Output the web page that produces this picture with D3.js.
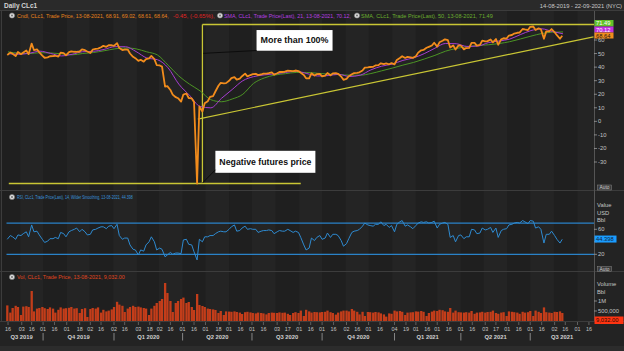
<!DOCTYPE html>
<meta charset="utf-8">
<style>
  body { margin: 0; background: #1d1d1d; }
  svg { display: block; font-family: "Liberation Sans", Arial, sans-serif; }
</style>
<body>
<script src="https://d3js.org/d3.v7.min.js"></script>
<script>
// CLc1 close, sampled every Monday and Thursday from 15-08-2019 to 12-08-2021
var closePrice = [
  // Aug 2019
  54.47, 56.21, 55.35, 53.64, 56.71,
  // Sep 2019
  55.10, 56.30, 57.85, 55.09, 62.90, 58.13, 58.64, 56.41, 54.07,
  // Oct 2019
  52.45, 52.75, 53.55, 53.59, 53.93, 53.31, 56.23, 55.81, 54.18,
  // Nov 2019
  56.54, 57.15, 56.86, 56.77, 57.05, 58.58, 58.01, 57.10,
  // Dec 2019
  55.96, 58.43, 59.02, 59.18, 60.21, 61.22, 60.52, 61.68, 61.68,
  // Jan 2020
  61.18, 63.27, 59.56, 58.08, 58.52, 58.50, 55.59, 53.14, 52.14,
  // Feb 2020
  50.11, 50.95, 49.57, 51.42, 52.05, 53.78, 51.43, 47.09,
  // Mar 2020
  46.75, 45.90, 31.13, 31.50, 28.70, 25.22, 23.36, 22.60, 20.09,
  // Apr 2020
  25.32, 26.08, 22.76, 22.41, 19.87, -40.32, 16.50, 12.78, 18.84,
  // May 2020
  20.39, 23.55, 24.14, 27.56, 31.82, 33.92, 33.50, 33.71,
  // Jun 2020
  35.44, 37.41, 38.19, 36.34, 37.12, 38.84, 40.73, 38.72, 39.70,
  // Jul 2020
  40.32, 40.63, 39.62, 40.10, 40.75, 40.81, 41.07, 41.60, 39.92,
  // Aug 2020
  41.01, 41.95, 41.94, 42.24, 42.89, 42.82, 42.62, 43.04, 42.61,
  // Sep 2020
  41.37, 39.80, 37.30, 37.26, 40.97, 39.31, 40.31, 40.60,
  // Oct 2020
  38.72, 39.22, 41.19, 39.43, 40.96, 41.06, 40.64, 38.56, 36.17,
  // Nov 2020
  36.81, 38.79, 40.29, 41.12, 41.34, 41.74, 43.06, 45.20, 45.34,
  // Dec 2020
  45.64, 45.76, 46.78, 46.99, 48.36, 47.74, 48.23, 47.62, 48.52,
  // Jan 2021
  47.62, 50.83, 52.25, 53.57, 52.30, 53.13, 52.77, 52.34,
  // Feb 2021
  53.55, 56.23, 57.97, 58.24, 59.80, 60.52, 61.49, 63.53,
  // Mar 2021
  60.64, 63.83, 65.05, 66.02, 65.39, 60.00, 61.55, 58.56, 61.56,
  // Apr 2021
  61.45, 58.65, 59.60, 59.70, 63.46, 63.38, 61.43, 61.91, 65.01,
  // May 2021
  64.49, 64.71, 65.92, 63.82, 66.27, 62.05, 66.05, 66.85, 66.60,
  // Jun 2021
  68.81, 69.23, 70.29, 70.88, 71.04, 73.66, 73.30, 72.91,
  // Jul 2021
  75.23, 75.50, 72.94, 74.10, 73.47, 66.42, 71.91, 71.91, 73.62,
  // Aug 2021
  71.26, 69.09, 66.48, 68.64
];

// RSI(14), same Mon/Thu dates
var rsiValues = [
  44, 50, 48, 44, 51,
  50, 53, 56, 48, 67, 56, 57, 51, 44,
  39, 41, 45, 45, 47, 45, 55, 53, 48,
  56, 58, 60, 62, 56, 60, 56, 51,
  52, 59, 60, 62, 64, 64, 61, 65, 66,
  61, 68, 50, 44, 46, 46, 35, 28, 27,
  19, 27, 25, 35, 40, 48, 40, 27,
  30, 28, 16, 19, 23, 20, 22, 22, 21,
  43, 44, 36, 35, 24, 11, 44, 40, 48,
  48, 50, 50, 53, 56, 57, 56, 56,
  60, 64, 67, 57, 58, 62, 65, 60, 61,
  60, 60, 55, 57, 58, 58, 59, 58, 53,
  56, 58, 57, 57, 60, 58, 55, 57, 55,
  47, 35, 27, 30, 46, 42, 47, 50,
  44, 46, 54, 47, 52, 52, 50, 42, 33,
  37, 45, 55, 57, 58, 60, 65, 70, 67,
  66, 65, 68, 68, 72, 66, 68, 63, 66,
  56, 68, 72, 74, 65, 67, 64, 61,
  66, 70, 72, 71, 72, 70, 71, 73,
  62, 68, 70, 71, 68, 47, 50, 40, 50,
  51, 45, 48, 48, 60, 59, 53, 54, 62,
  59, 60, 63, 55, 62, 47, 58, 60, 61,
  67, 68, 70, 71, 70, 74, 72, 69,
  74, 73, 62, 64, 60, 38, 52, 52, 57,
  50, 44, 38, 44
];

// volume in thousands of barrels, same Mon/Thu dates
var volumeK = [
  780, 420, 650, 760, 700,
  300, 720, 740, 700, 1500, 480, 620, 650, 700,
  640, 600, 680, 620, 420, 560, 680, 620, 640,
  660, 700, 620, 640, 400, 600, 640, 200,
  600, 650, 620, 680, 420, 560, 480, 520, 580,
  700, 960, 820, 760, 450, 620, 700, 760, 700,
  720, 680, 650, 620, 300, 620, 760, 900,
  1000, 1100, 1900, 1400, 1000, 450, 900, 1000, 1100,
  1170, 900, 950, 700, 550, 1350, 800, 750, 700,
  620, 600, 580, 550, 400, 500, 300, 480,
  470, 460, 480, 450, 420, 350, 440, 460, 430,
  400, 380, 420, 400, 380, 330, 400, 420, 410,
  400, 430, 410, 420, 360, 300, 400, 440, 400,
  520, 250, 560, 480, 420, 450, 440, 430,
  450, 460, 520, 440, 400, 320, 420, 480, 520,
  520, 480, 600, 520, 460, 330, 460, 250, 450,
  440, 420, 450, 430, 380, 330, 220, 380, 360,
  520, 480, 500, 460, 300, 420, 430, 440,
  480, 470, 500, 460, 250, 400, 470, 520,
  500, 560, 540, 480, 460, 650, 420, 520, 440,
  430, 420, 440, 420, 500, 360, 420, 430, 460,
  420, 450, 460, 520, 400, 360, 420, 440, 250,
  480, 460, 440, 420, 360, 460, 420, 440,
  500, 250, 520, 460, 400, 680, 440, 420, 400,
  460, 450, 480, 400
];

// moving averages, every second Friday from 16-08-2019 to 13-08-2021
var sma21 = [
  55.5, 55.0, 55.8, 57.3, 55.6, 53.8, 55.0, 56.9, 57.2, 58.6,
  60.6, 60.6, 57.0, 52.3, 51.0, 45.0, 33.0, 24.8, 16.5, 15.5,
  22.5, 29.0, 35.5, 38.5, 39.8, 40.6, 41.6, 42.5, 40.8, 39.0,
  39.3, 40.2, 38.6, 39.6, 43.5, 46.2, 47.8, 50.5, 52.4, 55.5,
  59.5, 63.0, 62.8, 60.8, 61.0, 63.6, 64.8, 66.2, 69.5, 72.5,
  73.8, 71.8, 70.12
];
var sma50 = [
  56.8, 55.8, 55.5, 56.2, 56.0, 55.4, 54.6, 55.6, 56.3, 57.6,
  59.0, 59.7, 59.0, 56.8, 54.5, 47.0, 39.0, 33.0, 28.0, 21.5,
  20.0, 22.0, 25.5, 33.5, 37.5, 39.7, 40.7, 41.6, 41.6, 41.0,
  40.4, 40.0, 39.6, 39.6, 40.8, 42.8, 44.8, 47.0, 49.0, 51.5,
  54.2, 57.3, 59.3, 60.6, 61.5, 62.0, 62.9, 64.3, 66.3, 68.4,
  70.3, 71.3, 71.49
];

var priceTicks = [60, 50, 40, 30, 20, 10, 0, -10, -20, -30];
var rsiTicks = [60, 20];
var rsiBands = [70, 20];
var tickDates = ["2019-08-16","2019-09-03","2019-09-16","2019-10-01","2019-10-16","2019-11-01","2019-11-18","2019-12-02","2019-12-16","2020-01-02","2020-01-16","2020-02-03","2020-02-18","2020-03-02","2020-03-16","2020-04-01","2020-04-16","2020-05-01","2020-05-18","2020-06-01","2020-06-16","2020-07-01","2020-07-16","2020-08-03","2020-08-17","2020-09-01","2020-09-16","2020-10-01","2020-10-16","2020-11-02","2020-11-16","2020-12-01","2020-12-16","2021-01-04","2021-01-19","2021-02-01","2021-02-16","2021-03-01","2021-03-16","2021-04-01","2021-04-16","2021-05-03","2021-05-17","2021-06-01","2021-06-16","2021-07-01","2021-07-16","2021-08-02","2021-08-16","2021-09-01","2021-09-16"];
var quarterNames = ["Q3 2019","Q4 2019","Q1 2020","Q2 2020","Q3 2020","Q4 2020","Q1 2021","Q2 2021","Q3 2021"];
var quarterStarts = ["2019-07-01","2019-10-01","2020-01-02","2020-04-01","2020-07-01","2020-10-01","2021-01-04","2021-04-01","2021-07-01","2021-10-01"];

// annotation values
var priceHigh = 76.98, priceLow = -40.32;
var trendStart = ["2020-04-21", 7.2], trendEnd = ["2021-09-22", 67.9];

var parse = d3.timeParse("%Y-%m-%d");
var days = d3.timeDay.range(new Date(2019, 7, 15), new Date(2021, 7, 13))
  .filter(function (d) { return d.getDay() === 1 || d.getDay() === 4; });
var smaDays = d3.timeDay.range(new Date(2019, 7, 16), new Date(2021, 7, 14), 14);

var W = 624, H = 351, axisX = 594;
var main = {top: 11, bottom: 190}, rsiP = {top: 191, bottom: 271}, volP = {top: 272, bottom: 321};

var x = d3.scaleTime().domain([parse("2019-08-14"), parse("2021-09-22")]).range([6.5, 593.5]);
var y = d3.scaleLinear().domain([priceLow, priceHigh]).range([183.5, 24.5]);
var yR = d3.scaleLinear().domain([20, 60]).range([254.3, 229.3]);
var yV = d3.scaleLinear().domain([0, 1000]).range([321, 301]);

var svg = d3.select("body").append("svg").attr("width", W).attr("height", H);
svg.append("rect").attr("width", W).attr("height", H).attr("fill", "#232323");
svg.append("rect").attr("width", W).attr("height", 11).attr("fill", "#2a2a2a");

// panel backgrounds with month stripes
var months = d3.timeMonth.range(new Date(2019, 7, 1), new Date(2021, 9, 1));
[main, rsiP, volP].forEach(function (p) {
  svg.append("rect").attr("x", 2).attr("y", p.top).attr("width", axisX - 2)
    .attr("height", p.bottom - p.top).attr("fill", "#1f1f1f");
  svg.append("g").selectAll("rect").data(months.filter(function (d, i) { return i % 2; }))
    .enter().append("rect")
    .attr("x", function (d) { return Math.max(2, x(d)); })
    .attr("width", function (d) { return Math.min(axisX, x(d3.timeMonth.offset(d, 1))) - Math.max(2, x(d)); })
    .attr("y", p.top).attr("height", p.bottom - p.top)
    .attr("fill", "#242424");
});

// separators and frame
[main.top - 0.5, main.bottom + 0.5, rsiP.bottom + 0.5, volP.bottom + 0.5].forEach(function (v) {
  svg.append("line").attr("x1", 0).attr("x2", W).attr("y1", v).attr("y2", v)
    .attr("stroke", "#3c3c3c");
});
svg.append("line").attr("x1", axisX + 0.5).attr("x2", axisX + 0.5).attr("y1", main.top)
  .attr("y2", volP.bottom).attr("stroke", "#555");
svg.append("line").attr("x1", 1.5).attr("x2", 1.5).attr("y1", main.top)
  .attr("y2", volP.bottom).attr("stroke", "#3c3c3c");

// header
svg.append("text").attr("x", 4).attr("y", 8).attr("fill", "#d4d4d4")
  .attr("font-size", 6.5).attr("font-weight", "bold").text("Daily CLc1");
svg.append("text").attr("x", 622).attr("y", 8).attr("fill", "#c8c8c8")
  .attr("font-size", 5.8).attr("text-anchor", "end").text("14-08-2019 - 22-09-2021 (NYC)");

function icon(cx, cy) {
  svg.append("circle").attr("cx", cx).attr("cy", cy).attr("r", 2.6)
    .attr("fill", "#dcdcdc").attr("stroke", "#7a7a7a").attr("stroke-width", 0.6);
  svg.append("circle").attr("cx", cx).attr("cy", cy).attr("r", 0.9).attr("fill", "#666");
}
// legend text squeezed horizontally to the width seen in the chart
function legend(x0, y0, str, color, len) {
  var g = svg.append("g");
  var t = g.append("text").attr("dy", "0.35em")
    .attr("fill", color).attr("font-size", 6).text(str);
  var w = t.node().getComputedTextLength();
  g.attr("transform", "translate(" + x0 + "," + y0 + ") scale(" + Math.min(1, len / w) + ",1)");
}
function valueBox(y0, h, fill, txtColor, str, w) {
  svg.append("rect").attr("x", axisX + 0.5).attr("y", y0).attr("width", w || 19)
    .attr("height", h).attr("fill", fill);
  svg.append("text").attr("x", axisX + 2).attr("y", y0 + h / 2).attr("dy", "0.35em")
    .attr("fill", txtColor).attr("font-size", 5.8).text(str);
}
function autoBox(y0) {
  svg.append("rect").attr("x", axisX + 3.5).attr("y", y0).attr("width", 14).attr("height", 5)
    .attr("fill", "#3a3a3a").attr("stroke", "#888").attr("stroke-width", 0.5);
  svg.append("text").attr("x", axisX + 10.5).attr("y", y0 + 2.6).attr("dy", "0.35em")
    .attr("text-anchor", "middle").attr("fill", "#d0d0d0").attr("font-size", 4.8).text("Auto");
}

// ---- main panel ----
svg.append("clipPath").attr("id", "clipMain").append("rect")
  .attr("x", 2).attr("y", main.top).attr("width", axisX - 2).attr("height", main.bottom - main.top);
var gm = svg.append("g").attr("clip-path", "url(#clipMain)");

var yellow = "#c9c634";
var vDate = parse("2020-04-27");
gm.append("line").attr("x1", x(vDate)).attr("x2", x(vDate)).attr("y1", y(priceHigh)).attr("y2", y(priceLow))
  .attr("stroke", yellow).attr("stroke-width", 1.3);
gm.append("line").attr("x1", x(vDate)).attr("x2", axisX).attr("y1", y(priceHigh)).attr("y2", y(priceHigh))
  .attr("stroke", yellow).attr("stroke-width", 1.3);
gm.append("line").attr("x1", x(parse("2019-08-17"))).attr("x2", x(parse("2020-09-03")))
  .attr("y1", y(priceLow)).attr("y2", y(priceLow)).attr("stroke", yellow).attr("stroke-width", 1.3);
gm.append("line").attr("x1", x(parse(trendStart[0]))).attr("y1", y(trendStart[1]))
  .attr("x2", x(parse(trendEnd[0]))).attr("y2", y(trendEnd[1]))
  .attr("stroke", yellow).attr("stroke-width", 1.2);

var line = d3.line().x(function (d) { return x(d[0]); }).y(function (d) { return y(d[1]); });
gm.append("path").datum(d3.zip(smaDays, sma50)).attr("d", line.curve(d3.curveMonotoneX))
  .attr("fill", "none").attr("stroke", "#4c9424").attr("stroke-width", 1);
gm.append("path").datum(d3.zip(smaDays, sma21)).attr("d", line.curve(d3.curveMonotoneX))
  .attr("fill", "none").attr("stroke", "#a63cd2").attr("stroke-width", 1);
gm.append("path").datum(d3.zip(days, closePrice)).attr("d", line.curve(d3.curveLinear))
  .attr("fill", "none").attr("stroke", "#f28c1c").attr("stroke-width", 1.8)
  .attr("stroke-linejoin", "round");

// callouts
function callout(dateStr, val, w, h, str, len) {
  var bx = x(parse(dateStr)), by = y(val);
  gm.append("rect").attr("x", bx).attr("y", by).attr("width", w).attr("height", h)
    .attr("fill", "#ffffff");
  gm.append("text").attr("x", bx + w / 2).attr("y", by + h / 2).attr("dy", "0.36em")
    .attr("text-anchor", "middle").attr("font-size", 8.6).attr("font-weight", "bold")
    .attr("fill", "#111").attr("textLength", len).attr("lengthAdjust", "spacingAndGlyphs").text(str);
  return [bx, by];
}
var c1 = callout("2020-07-07", 72.9, 76, 20.7, "More than 100%", 68);
gm.append("line").attr("x1", c1[0]).attr("y1", c1[1] + 20.5).attr("x2", x(parse("2020-04-28"))).attr("y2", y(55.7))
  .attr("stroke", "#0c0c0c").attr("stroke-width", 1);
var c2 = callout("2020-05-14", -16.2, 100, 22, "Negative futures price", 92);
gm.append("line").attr("x1", c2[0]).attr("y1", c2[1] + 19).attr("x2", x(parse("2020-04-27"))).attr("y2", y(-40))
  .attr("stroke", "#0c0c0c").attr("stroke-width", 1);

// price axis
priceTicks.forEach(function (v) {
  var ty = y(v) - 7.5;
  svg.append("line").attr("x1", axisX).attr("x2", axisX + 3).attr("y1", ty).attr("y2", ty)
    .attr("stroke", "#aaa").attr("stroke-width", 0.7);
  svg.append("text").attr("x", axisX + 4).attr("y", ty).attr("dy", "0.35em")
    .attr("fill", "#c4c4c4").attr("font-size", 5.8).text(v);
});
valueBox(20, 6.5, "#62c22a", "#ffffff", "71.49");
valueBox(26.5, 6, "#c030e0", "#ffffff", "70.12");
valueBox(32.5, 6, "#f28c1c", "#1a1a1a", "68.64");
autoBox(185);

icon(12, 15.5);
legend(17, 15.5, "Cndl, CLc1, Trade Price,  13-08-2021, 68.91, 69.02, 68.61, 68.64,", "#e8841c", 152);
legend(173, 15.5, "-0.45, (-0.65%),", "#e02424", 43);
icon(220, 15.5);
legend(224, 15.5, "SMA, CLc1, Trade Price(Last),  21,  13-08-2021, 70.12,", "#b63ee0", 127);
icon(357, 15.5);
legend(361, 15.5, "SMA, CLc1, Trade Price(Last),  50,  13-08-2021, 71.49", "#6aae2e", 132);

// ---- RSI panel ----
svg.append("clipPath").attr("id", "clipRsi").append("rect")
  .attr("x", 2).attr("y", rsiP.top).attr("width", axisX - 2).attr("height", rsiP.bottom - rsiP.top);
var gr = svg.append("g").attr("clip-path", "url(#clipRsi)");
rsiBands.forEach(function (v) {
  gr.append("line").attr("x1", 6.5).attr("x2", axisX).attr("y1", yR(v)).attr("y2", yR(v))
    .attr("stroke", "#2a82c8").attr("stroke-width", 1.2);
});
gr.append("path").datum(d3.zip(days, rsiValues))
  .attr("d", d3.line().x(function (d) { return x(d[0]); }).y(function (d) { return yR(d[1]); }))
  .attr("fill", "none").attr("stroke", "#2e8ad0").attr("stroke-width", 1);
icon(12, 197);
legend(17, 197, "RSI, CLc1, Trade Price(Last),  14,  Wilder Smoothing,  13-08-2021, 44.398", "#3a94dc", 116);
["Value", "USD", "Bbl"].forEach(function (t, i) {
  svg.append("text").attr("x", axisX + 3).attr("y", 205 + i * 7.5).attr("dy", "0.35em")
    .attr("fill", "#c4c4c4").attr("font-size", 5.8).text(t);
});
rsiTicks.forEach(function (v) {
  svg.append("line").attr("x1", axisX).attr("x2", axisX + 3).attr("y1", yR(v)).attr("y2", yR(v))
    .attr("stroke", "#aaa").attr("stroke-width", 0.7);
  svg.append("text").attr("x", axisX + 4).attr("y", yR(v)).attr("dy", "0.35em")
    .attr("fill", "#c4c4c4").attr("font-size", 5.8).text(v);
});
// the 40 tick sits under the current-value box
svg.append("line").attr("x1", axisX).attr("x2", axisX + 3).attr("y1", yR(40)).attr("y2", yR(40))
  .attr("stroke", "#aaa").attr("stroke-width", 0.7);
valueBox(yR(44.398) - 3.5, 7, "#1a9cff", "#10253a", "44.398", 22);
autoBox(266.5);

// ---- volume panel ----
svg.append("g").selectAll("rect").data(d3.zip(days, volumeK)).enter().append("rect")
  .attr("x", function (d) { return x(d[0]) - 1.1; })
  .attr("width", 2.3)
  .attr("y", function (d) { return yV(d[1]); })
  .attr("height", function (d) { return yV(0) - yV(d[1]); })
  .attr("fill", "#c33d1a");
icon(12, 277);
legend(17, 277, "Vol, CLc1, Trade Price,  13-08-2021, 9,032.00", "#e0461e", 108);
["Volume", "Bbl"].forEach(function (t, i) {
  svg.append("text").attr("x", axisX + 3).attr("y", 284 + i * 8).attr("dy", "0.35em")
    .attr("fill", "#c4c4c4").attr("font-size", 5.8).text(t);
});
[[1000, "1M"], [500, "500,000"]].forEach(function (t) {
  svg.append("line").attr("x1", axisX).attr("x2", axisX + 3).attr("y1", yV(t[0])).attr("y2", yV(t[0]))
    .attr("stroke", "#aaa").attr("stroke-width", 0.7);
  svg.append("text").attr("x", axisX + 4).attr("y", yV(t[0])).attr("dy", "0.35em")
    .attr("fill", "#c4c4c4").attr("font-size", 5.8).text(t[1]);
});
valueBox(316.5, 7.5, "#ff3412", "#2a0a00", "9,032.00", 29);

// ---- time axis ----
var fmtDay = d3.timeFormat("%d");
tickDates.forEach(function (s) {
  var d = parse(s), tx = x(d);
  svg.append("line").attr("x1", tx).attr("x2", tx).attr("y1", 322).attr("y2", 325)
    .attr("stroke", "#8a8a8a").attr("stroke-width", 0.6);
  svg.append("text").attr("x", tx).attr("y", 329.5).attr("dy", "0.35em").attr("text-anchor", "middle")
    .attr("fill", "#c4c4c4").attr("font-size", 5.4).text(fmtDay(d));
});
quarterNames.forEach(function (q, i) {
  var a = Math.max(0, x(parse(quarterStarts[i]))), b = Math.min(axisX, x(parse(quarterStarts[i + 1])));
  svg.append("text").attr("x", (a + b) / 2).attr("y", 337).attr("dy", "0.35em").attr("text-anchor", "middle")
    .attr("fill", "#d0d0d0").attr("font-size", 5.8).attr("font-weight", "bold").text(q);
  if (i > 0) {
    svg.append("line").attr("x1", a).attr("x2", a).attr("y1", 333).attr("y2", 340.5)
      .attr("stroke", "#a0a0a0").attr("stroke-width", 0.8);
  }
});
svg.append("rect").attr("x", 0).attr("y", 346).attr("width", W).attr("height", 5).attr("fill", "#2c2c2c");
</script>
